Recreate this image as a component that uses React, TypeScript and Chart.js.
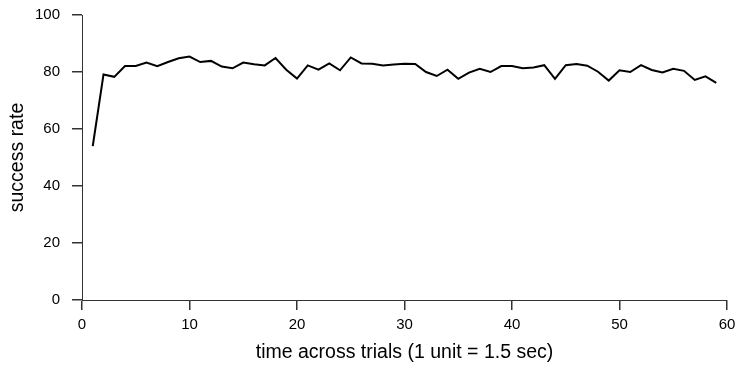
import React, { useEffect, useRef } from "react";
import { Chart, registerables } from "chart.js";

Chart.register(...registerables);

const timePoints: number[] = [
  1, 2, 3, 4, 5, 6, 7, 8, 9, 10, 11, 12, 13, 14, 15, 16, 17, 18, 19, 20,
  21, 22, 23, 24, 25, 26, 27, 28, 29, 30, 31, 32, 33, 34, 35, 36, 37, 38, 39, 40,
  41, 42, 43, 44, 45, 46, 47, 48, 49, 50, 51, 52, 53, 54, 55, 56, 57, 58, 59,
];

const successRate: number[] = [
  54.0, 79.1, 78.3, 82.1, 82.1, 83.3, 82.0, 83.5, 84.8, 85.4,
  83.5, 83.9, 81.9, 81.3, 83.3, 82.7, 82.3, 84.9, 80.8, 77.7,
  82.3, 80.8, 83.0, 80.6, 85.1, 83.0, 82.9, 82.3, 82.6, 82.9,
  82.8, 80.0, 78.6, 80.8, 77.6, 79.8, 81.1, 80.0, 82.1, 82.1,
  81.3, 81.6, 82.4, 77.6, 82.4, 82.8, 82.2, 80.1, 77.0, 80.6,
  80.0, 82.4, 80.7, 79.8, 81.1, 80.4, 77.2, 78.5, 76.2,
];

const xTitle = "time across trials (1 unit = 1.5 sec)";
const yTitle = "success rate";
const xMin = 0, xMax = 60, xStep = 10;
const yMin = 0, yMax = 100, yStep = 20;

const axisColor = "#333";
const tickLen = 10;

export default function App() {
  const ref = useRef<HTMLCanvasElement>(null);

  useEffect(() => {
    document.body.style.margin = "0";
    const canvas = ref.current;
    if (!canvas) return;
    Chart.defaults.font.family = "'Liberation Sans', Arial, sans-serif";
    const gridOpts = {
      display: true,
      drawOnChartArea: false,
      drawTicks: true,
      tickLength: tickLen,
      color: axisColor,
      tickColor: axisColor,
      tickWidth: 1.5,
      lineWidth: 1.5,
    };
    const chart = new Chart(canvas, {
      type: "line",
      data: {
        datasets: [
          {
            data: timePoints.map((t, i) => ({ x: t, y: successRate[i] })),
            borderColor: "#000",
            borderWidth: 2,
            pointRadius: 0,
            tension: 0,
            fill: false,
          },
        ],
      },
      options: {
        animation: false,
        responsive: false,
        devicePixelRatio: 1,
        layout: { padding: { top: 15, right: 8, left: 0, bottom: 0 } },
        plugins: { legend: { display: false }, tooltip: { enabled: false } },
        scales: {
          x: {
            type: "linear",
            min: xMin,
            max: xMax,
            ticks: { stepSize: xStep, color: "#000", font: { size: 15 }, padding: 6, maxRotation: 0 },
            grid: gridOpts,
            border: { display: true, color: axisColor, width: 1 },
            title: { display: true, text: xTitle, color: "#000", font: { size: 19.5 }, padding: { top: 0, bottom: 1.5 } },
            afterFit: (scale: any) => {
              scale.height = 66;
              scale.paddingLeft = 0;
              scale.paddingRight = 0;
            },
          },
          y: {
            type: "linear",
            min: yMin,
            max: yMax,
            ticks: { stepSize: yStep, color: "#000", font: { size: 15 }, padding: 12 },
            grid: gridOpts,
            border: { display: true, color: axisColor, width: 1 },
            title: { display: true, text: yTitle, color: "#000", font: { size: 19.5 }, padding: { top: 6, bottom: 0 } },
            afterFit: (scale: any) => {
              scale.width = 82;
              scale.paddingTop = 0;
              scale.paddingBottom = 0;
            },
          },
        },
      },
    } as any);
    return () => chart.destroy();
  }, []);

  return (
    <div style={{ width: 735, height: 366, background: "#fff" }}>
      <canvas ref={ref} width={735} height={366} style={{ display: "block" }} />
    </div>
  );
}
